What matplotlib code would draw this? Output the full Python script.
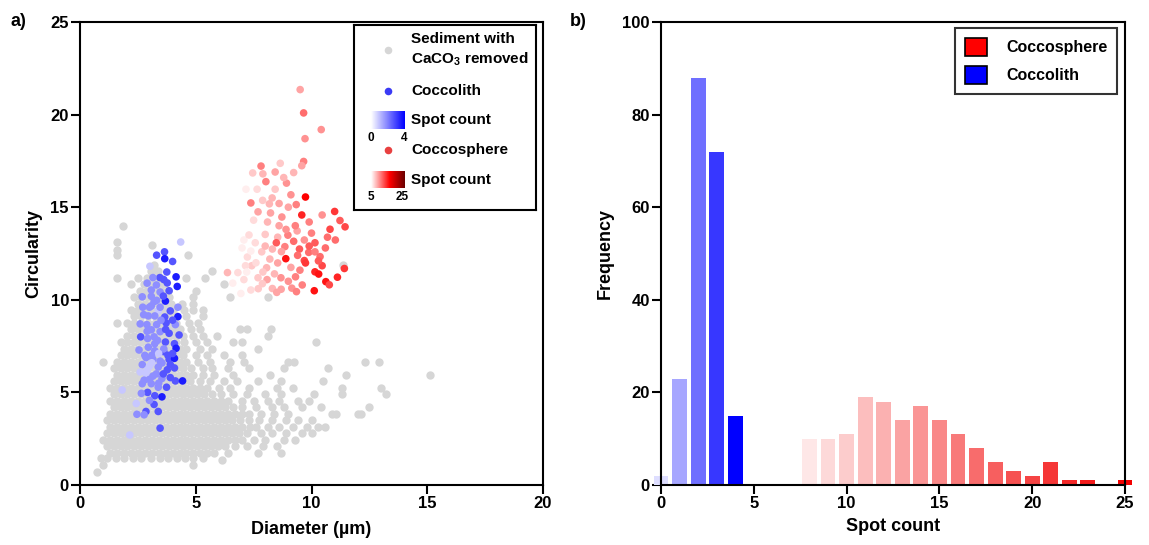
import numpy as np
import matplotlib
matplotlib.use('Agg')
import matplotlib.pyplot as plt
from matplotlib.colors import LinearSegmentedColormap, Normalize
from matplotlib.patches import Patch

plt.rcParams['font.family'] = ['Liberation Sans', 'DejaVu Sans']
plt.rcParams['font.weight'] = 'bold'
plt.rcParams['axes.labelweight'] = 'bold'
plt.rcParams['mathtext.fontset'] = 'custom'
plt.rcParams['mathtext.rm'] = 'Liberation Sans:bold'
plt.rcParams['mathtext.bf'] = 'Liberation Sans:bold'

# ---- panel a: sediment particles (diameter, circularity)
gray_rows = [
    (0.7, [0.75]),
    (1.1, [1.0, 4.9]),
    (1.35, [6.15]),
    (1.45, [0.9, 1.15, 1.55, 1.9, 2.3, 2.65, 3.05, 3.45, 3.8, 4.2, 4.55, 4.9, 5.3]),
    (1.75, [1.3, 1.6, 1.9, 2.2, 2.5, 2.8, 3.1, 3.4, 3.7, 4.0, 4.3, 4.6, 4.9, 5.2, 5.5, 5.8, 6.4, 7.7, 8.7]),
    (2.1, [1.15, 1.45, 1.75, 2.05, 2.35, 2.65, 2.95, 3.25, 3.55, 3.85, 4.15, 4.45, 4.75, 5.05, 5.35, 5.65,
           5.95, 6.25, 6.7, 7.2, 7.9, 8.5]),
    (2.45, [1.0, 1.3, 1.6, 1.9, 2.2, 2.5, 2.8, 3.1, 3.4, 3.7, 4.0, 4.3, 4.6, 4.9, 5.2, 5.5, 5.8, 6.1, 6.4,
            6.7, 7.0, 7.5, 8.0, 8.8, 9.3]),
    (2.8, [1.15, 1.45, 1.75, 2.05, 2.35, 2.65, 2.95, 3.25, 3.55, 3.85, 4.15, 4.45, 4.75, 5.05, 5.35, 5.65,
           5.95, 6.25, 6.55, 6.85, 7.2, 7.8, 8.3, 8.9, 9.6, 10.0]),
    (3.15, [1.3, 1.6, 1.9, 2.2, 2.5, 2.8, 3.1, 3.4, 3.7, 4.0, 4.3, 4.6, 4.9, 5.2, 5.5, 5.8, 6.1, 6.4, 6.7,
            7.0, 7.35, 7.6, 8.1, 8.6, 9.2, 9.8, 10.3, 10.6]),
    (3.5, [1.15, 1.45, 1.75, 2.05, 2.35, 2.65, 2.95, 3.25, 3.55, 3.85, 4.15, 4.45, 4.75, 5.05, 5.35, 5.65,
           5.95, 6.25, 6.55, 6.9, 7.3, 7.75, 8.3, 8.9, 9.4, 10.0]),
    (3.85, [1.3, 1.6, 1.9, 2.2, 2.5, 2.8, 3.1, 3.4, 3.7, 4.0, 4.3, 4.6, 4.9, 5.2, 5.5, 5.8, 6.1, 6.4, 6.7,
            7.0, 7.3, 7.8, 8.4, 9.0, 10.9, 11.05, 12.0, 12.15]),
    (4.2, [1.45, 1.75, 2.05, 2.35, 2.65, 2.95, 3.25, 3.55, 3.85, 4.15, 4.45, 4.75, 5.05, 5.35, 5.65, 5.95,
           6.25, 6.6, 7.0, 7.6, 8.3, 8.8, 9.6, 10.4, 12.5]),
    (4.55, [1.3, 1.6, 1.9, 2.2, 2.5, 2.8, 3.1, 3.4, 3.7, 4.0, 4.3, 4.6, 4.9, 5.2, 5.5, 5.8, 6.1, 6.4, 7.0,
            7.5, 8.1, 8.6, 9.4, 9.9]),
    (4.9, [1.45, 1.75, 2.05, 2.35, 2.65, 2.95, 3.25, 3.55, 3.85, 4.15, 4.45, 4.75, 5.05, 5.35, 5.7, 6.1,
           6.6, 7.2, 8.0, 8.7, 10.1, 11.3, 13.2]),
    (5.25, [1.3, 1.6, 1.9, 2.2, 2.5, 2.8, 3.1, 3.4, 3.7, 4.0, 4.3, 4.6, 4.9, 5.2, 5.5, 6.0, 6.5, 7.3, 8.5,
            9.2, 11.3, 13.0]),
    (5.6, [1.45, 1.75, 2.05, 2.35, 2.65, 2.95, 3.25, 3.55, 3.85, 4.15, 4.45, 4.75, 5.2, 5.6, 6.2, 6.8, 7.7,
           8.7, 10.5]),
    (5.95, [1.6, 1.9, 2.2, 2.5, 2.8, 3.1, 3.4, 3.7, 4.0, 4.3, 4.6, 4.9, 5.3, 5.8, 6.6, 8.2, 11.5, 15.1]),
    (6.3, [1.45, 1.75, 2.05, 2.35, 2.65, 2.95, 3.25, 3.55, 3.85, 4.15, 4.45, 4.8, 5.3, 5.7, 6.4, 7.3, 8.8,
           10.7]),
    (6.65, [1.0, 1.6, 1.9, 2.2, 2.5, 2.8, 3.1, 3.4, 3.7, 4.0, 4.3, 4.6, 5.1, 5.6, 6.5, 7.1, 9.0, 9.25,
            12.3, 12.9]),
    (7.0, [1.75, 2.05, 2.35, 2.65, 2.95, 3.25, 3.55, 3.85, 4.15, 4.45, 5.0, 5.5, 6.2, 7.0]),
    (7.35, [1.9, 2.2, 2.5, 2.8, 3.1, 3.4, 3.7, 4.0, 4.3, 4.6, 5.2, 5.7, 7.7]),
    (7.7, [1.75, 2.05, 2.35, 2.65, 2.95, 3.25, 3.55, 3.85, 4.15, 4.5, 5.0, 5.5, 6.6, 7.0, 10.2]),
    (8.05, [2.05, 2.35, 2.65, 2.95, 3.25, 3.55, 3.85, 4.15, 4.45, 4.9, 5.3, 5.9, 8.1]),
    (8.4, [2.2, 2.5, 2.8, 3.1, 3.4, 3.7, 4.0, 4.3, 4.8, 5.2, 6.9, 7.2, 8.25]),
    (8.75, [1.6, 2.05, 2.35, 2.65, 2.95, 3.25, 3.55, 3.85, 4.15, 4.7, 5.1]),
    (9.1, [2.35, 2.65, 2.95, 3.25, 3.55, 3.85, 4.15, 4.6, 5.3]),
    (9.45, [2.2, 2.5, 2.8, 3.1, 3.4, 3.7, 4.0, 4.5, 4.9, 5.3]),
    (9.8, [2.5, 2.8, 3.1, 3.4, 3.7, 3.95, 4.4, 4.9]),
    (10.15, [2.35, 2.65, 2.95, 3.25, 3.55, 3.85, 4.9, 6.5, 8.1]),
    (10.5, [2.6, 2.9, 3.2, 3.5, 3.8, 5.0]),
    (10.85, [2.2, 2.75, 3.05, 3.35, 3.65, 6.2]),
    (11.2, [1.6, 2.5, 2.9, 3.2, 3.5, 4.6, 5.4]),
    (11.55, [3.05, 3.35, 5.7]),
    (11.9, [3.2, 11.35]),
    (12.4, [1.6, 4.65]),
    (12.7, [1.6]),
    (12.95, [3.1]),
    (13.1, [1.6]),
    (14.0, [1.85]),
]

# coccoliths: (diameter, circularity, spot count)
coccolith_pts = [
    (4.35, 13.12, 1), (3.31, 12.41, 3), (3.65, 12.59, 3), (3.66, 12.22, 4), (4.0, 12.07, 3),
    (3.02, 11.81, 1), (4.15, 11.24, 4), (3.62, 11.09, 3), (3.77, 10.91, 3), (4.2, 10.72, 4),
    (3.08, 10.53, 2), (3.46, 10.42, 2), (3.85, 10.49, 3), (2.69, 10.16, 2), (3.08, 10.19, 2),
    (3.31, 9.97, 2), (3.69, 9.93, 4), (2.71, 9.60, 2), (3.08, 9.67, 2), (3.38, 9.41, 1),
    (4.23, 9.60, 2), (2.95, 9.13, 2), (3.23, 9.13, 2), (3.66, 9.07, 3), (4.23, 9.09, 4),
    (2.89, 8.66, 2), (3.31, 8.66, 2), (3.72, 8.75, 3), (4.12, 8.66, 2), (3.08, 8.38, 2),
    (3.46, 8.28, 2), (3.85, 8.19, 3), (4.28, 8.10, 3), (2.62, 8.0, 3), (2.92, 7.91, 2),
    (3.35, 7.81, 2), (3.69, 7.72, 3), (4.08, 7.63, 3), (2.55, 7.29, 2), (2.95, 7.44, 2),
    (3.23, 7.25, 2), (3.62, 7.20, 3), (4.15, 7.38, 4), (2.85, 6.88, 2), (3.15, 6.78, 2),
    (3.46, 6.69, 2), (3.85, 6.78, 3), (4.08, 6.84, 4), (2.69, 6.50, 2), (3.0, 6.41, 1),
    (3.38, 6.37, 2), (3.77, 6.22, 3), (4.08, 6.32, 3), (2.85, 6.03, 1), (3.15, 5.88, 2),
    (3.54, 5.75, 2), (2.77, 5.66, 2), (4.12, 5.62, 3), (4.43, 5.62, 4), (3.08, 5.47, 2),
    (2.69, 5.47, 2), (3.38, 5.28, 2), (3.74, 5.28, 3), (1.82, 5.13, 1), (2.92, 5.0, 3),
    (2.65, 4.95, 2), (3.23, 4.82, 3), (3.54, 4.76, 4), (2.43, 4.40, 1), (3.2, 4.35, 3),
    (2.85, 3.97, 3), (2.46, 3.82, 2), (2.77, 3.79, 2), (3.46, 3.07, 3), (2.15, 2.70, 1),
    (3.38, 3.97, 3), (3.0, 4.57, 2), (3.54, 6.59, 2), (3.62, 7.35, 2), (3.23, 7.63, 2),
    (3.0, 9.6, 2), (3.46, 9.6, 2), (2.8, 7.0, 2), (3.1, 7.0, 2), (3.4, 7.1, 1),
    (3.3, 6.0, 2), (2.9, 6.2, 1), (3.6, 6.0, 3), (3.9, 5.8, 3), (3.0, 5.7, 2),
    (3.5, 8.9, 2), (3.2, 8.0, 2), (2.9, 8.3, 2), (3.7, 8.4, 3), (4.0, 8.9, 3),
    (3.3, 10.8, 2), (3.6, 10.2, 3), (2.9, 10.9, 2), (3.9, 9.4, 3), (2.75, 9.2, 2),
    (4.0, 7.1, 3), (3.8, 7.0, 3), (3.1, 6.6, 1), (2.6, 6.1, 1), (3.9, 6.5, 3),
    (3.4, 5.5, 2), (3.2, 9.9, 2), (3.75, 11.5, 3), (3.45, 11.2, 3), (3.15, 11.2, 2),
    (2.6, 8.7, 2),
]

# coccospheres: (diameter, circularity, spot count)
coccosphere_pts = [
    (9.51, 21.35, 10), (9.66, 20.09, 13), (10.42, 19.19, 11), (9.72, 18.70, 11), (9.66, 17.47, 12),
    (9.58, 17.24, 10), (7.82, 17.22, 12), (8.65, 17.37, 8), (7.46, 16.85, 8), (8.43, 16.90, 10),
    (9.23, 16.87, 9), (8.03, 16.38, 12), (8.92, 16.30, 11), (7.17, 15.97, 6), (7.65, 15.97, 7),
    (8.43, 15.97, 8), (9.74, 15.55, 19), (7.38, 15.23, 12), (7.89, 15.37, 8), (8.18, 15.18, 9),
    (9.11, 15.67, 11), (9.34, 15.14, 12), (7.69, 14.75, 10), (8.23, 14.69, 10), (8.72, 14.47, 11),
    (9.58, 14.58, 17), (10.46, 14.58, 11), (11.0, 14.77, 16), (11.23, 14.28, 14), (11.45, 13.94, 15),
    (10.8, 13.81, 15), (9.38, 13.72, 10), (8.0, 13.53, 8), (8.54, 13.38, 9), (8.98, 13.49, 12),
    (7.08, 13.23, 6), (7.57, 13.08, 7), (8.48, 13.08, 14), (9.23, 13.16, 13), (9.69, 13.23, 11),
    (10.15, 13.08, 14), (10.69, 13.38, 13), (11.03, 13.23, 13), (7.23, 12.31, 7), (7.85, 12.59, 8),
    (8.31, 12.74, 9), (8.85, 12.87, 12), (9.48, 12.74, 14), (9.88, 12.56, 13), (10.15, 12.59, 12),
    (10.37, 12.33, 13), (8.89, 12.22, 18), (9.69, 12.12, 15), (6.82, 11.47, 7), (7.42, 11.84, 8),
    (8.06, 11.73, 9), (8.54, 11.99, 10), (9.11, 11.75, 10), (9.74, 11.99, 16), (10.46, 11.84, 15),
    (11.42, 11.69, 16), (10.15, 11.51, 17), (10.31, 11.39, 18), (7.08, 11.09, 7), (7.69, 11.19, 8),
    (8.08, 11.09, 10), (8.68, 11.19, 11), (9.31, 11.24, 12), (10.62, 10.98, 18), (11.12, 11.22, 17),
    (10.77, 10.81, 15), (10.12, 10.49, 18), (6.95, 10.34, 6), (7.38, 10.53, 7), (7.88, 10.87, 8),
    (8.31, 10.61, 9), (8.69, 10.57, 10), (9.15, 10.63, 11), (9.35, 10.44, 12), (6.37, 11.47, 9),
    (7.15, 11.84, 7), (7.38, 12.63, 6), (7.0, 12.8, 6), (7.3, 13.5, 7), (7.6, 12.0, 7),
    (7.9, 11.5, 8), (8.2, 12.2, 9), (8.4, 11.4, 9), (8.7, 12.6, 10), (8.9, 13.8, 11),
    (9.0, 11.0, 11), (9.5, 11.6, 12), (9.9, 12.9, 14), (8.1, 14.2, 9), (8.6, 14.0, 10),
    (8.3, 15.5, 9), (7.5, 14.3, 7), (9.0, 15.0, 10), (8.8, 16.6, 9), (9.3, 14.0, 12),
    (10.0, 13.6, 12), (10.6, 12.8, 13), (7.7, 10.6, 8), (8.5, 10.4, 10), (9.6, 10.8, 12),
    (7.2, 11.5, 6), (8.0, 12.9, 9), (9.4, 12.4, 13), (10.3, 12.1, 14), (6.6, 10.9, 6),
    (7.9, 16.8, 9), (8.6, 15.2, 10), (9.9, 14.2, 12),
]

# ---- panel b: spot count histogram
spot_coccolith = [0, 1, 2, 3, 4]
freq_coccolith = [2, 23, 88, 72, 15]
spot_coccosphere = [8, 9, 10, 11, 12, 13, 14, 15, 16, 17, 18, 19, 20, 21, 22, 23, 24, 25]
freq_coccosphere = [10, 10, 11, 19, 18, 14, 17, 14, 11, 8, 5, 3, 2, 5, 1, 1, 0, 1]

GRAY = '#d6d6d6'
MS = 30
blue_cmap = LinearSegmentedColormap.from_list('blues_w', ['#ffffff', '#0000ff'])
red_cmap = LinearSegmentedColormap.from_list('reds_w', [(0, '#ffffff'), (0.7, '#ff0000'), (1, '#6b0000')])
red_bar_cmap = LinearSegmentedColormap.from_list('redbar', ['#ffffff', '#f20000'])

fig = plt.figure(figsize=(11.49, 5.45), dpi=100)
ax1 = fig.add_axes([80 / 1149, 60 / 545, 463 / 1149, 463 / 545])
ax2 = fig.add_axes([661 / 1149, 60 / 545, 464 / 1149, 463 / 545])

for ax in (ax1, ax2):
    for s in ax.spines.values():
        s.set_linewidth(1.5)
    ax.tick_params(direction='out', length=6.5, width=1.5, labelsize=12, pad=1.5)

# scatter
gx = [x for y, xs in gray_rows for x in xs]
gy = [y for y, xs in gray_rows for x in xs]
ax1.scatter(gx, gy, s=36, color=GRAY, linewidths=0, zorder=1)

cx, cy, cc = zip(*coccolith_pts)
ax1.scatter(cx, cy, c=cc, cmap=blue_cmap, norm=Normalize(0, 4.5), s=MS, linewidths=0, zorder=2)
sx, sy, sc = zip(*coccosphere_pts)
ax1.scatter(sx, sy, c=sc, cmap=red_cmap, norm=Normalize(5, 25), s=MS, linewidths=0, zorder=3)

ax1.set_xlim(0, 20)
ax1.set_ylim(0, 25)
ax1.set_xticks([0, 5, 10, 15, 20])
ax1.set_yticks([0, 5, 10, 15, 20, 25])
ax1.set_xlabel('Diameter (µm)', fontsize=13, labelpad=7)
ax1.set_ylabel('Circularity', fontsize=13, labelpad=6)

# hand-built legend box for panel a
lg = ax1.inset_axes([0.592, 0.594, 0.393, 0.40])
lg.set_xticks([])
lg.set_yticks([])
for s in lg.spines.values():
    s.set_linewidth(1.5)
lg.scatter([34], [25], s=MS, color=GRAY, linewidths=0)
lg.scatter([34], [66], s=MS, color='#3a3af5', linewidths=0)
lg.scatter([34], [125], s=MS, color='#e84040', linewidths=0)
grad = np.linspace(0, 1, 100)[None, :]
lg.imshow(grad, cmap=blue_cmap, extent=(17, 51, 104, 87), aspect='auto')
lg.imshow(grad, cmap=LinearSegmentedColormap.from_list('lg_r', [(0, '#ffffff'), (0.55, '#ff0000'), (1, '#6b0000')]),
          extent=(17, 51, 163, 147), aspect='auto')
lg.set_xlim(0, 182)
lg.set_ylim(185, 0)
fs = 11
lg.text(57, 14, 'Sediment with', fontsize=fs, va='center')
lg.text(57, 34, 'CaCO$_{3}$ removed', fontsize=fs, va='center')
lg.text(57, 66, 'Coccolith', fontsize=fs, va='center')
lg.text(57, 95, 'Spot count', fontsize=fs, va='center')
lg.text(17, 113, '0', fontsize=8.5, ha='center', va='center')
lg.text(50, 113, '4', fontsize=8.5, ha='center', va='center')
lg.text(57, 125, 'Coccosphere', fontsize=fs, va='center')
lg.text(57, 155, 'Spot count', fontsize=fs, va='center')
lg.text(17, 172, '5', fontsize=8.5, ha='center', va='center')
lg.text(48, 172, '25', fontsize=8.5, ha='center', va='center')

# histogram
bnorm = Normalize(-0.6, 4)
rnorm = Normalize(6.2, 25)
ax2.bar(spot_coccolith, freq_coccolith, width=0.8, color=blue_cmap(bnorm(np.array(spot_coccolith))),
        clip_on=False, zorder=2)
ax2.bar(spot_coccosphere, freq_coccosphere, width=0.8,
        color=red_bar_cmap(rnorm(np.array(spot_coccosphere))), clip_on=False, zorder=2)
ax2.set_xlim(0, 25)
ax2.set_ylim(0, 100)
ax2.set_xticks([0, 5, 10, 15, 20, 25])
ax2.set_yticks([0, 20, 40, 60, 80, 100])
ax2.set_xlabel('Spot count', fontsize=13, labelpad=5)
ax2.set_ylabel('Frequency', fontsize=13, labelpad=6)
handles = [Patch(facecolor='#ff0000', edgecolor='black', linewidth=1.2, label='Coccosphere'),
           Patch(facecolor='#0000ff', edgecolor='black', linewidth=1.2, label='Coccolith')]
leg = ax2.legend(handles=handles, loc='upper right', fontsize=11.5, frameon=True, fancybox=False,
                 edgecolor='black', handlelength=1.4, handleheight=1.4, handletextpad=1.2,
                 borderpad=0.6, labelspacing=0.6, borderaxespad=0.3, bbox_to_anchor=(0.993, 0.997))
leg.get_frame().set_linewidth(1.5)

fig.text(18 / 1149, 1 - 22 / 545, 'a)', fontsize=13, ha='center', va='center')
fig.text(578 / 1149, 1 - 22 / 545, 'b)', fontsize=13, ha='center', va='center')

fig.savefig('out.png', dpi=100)
